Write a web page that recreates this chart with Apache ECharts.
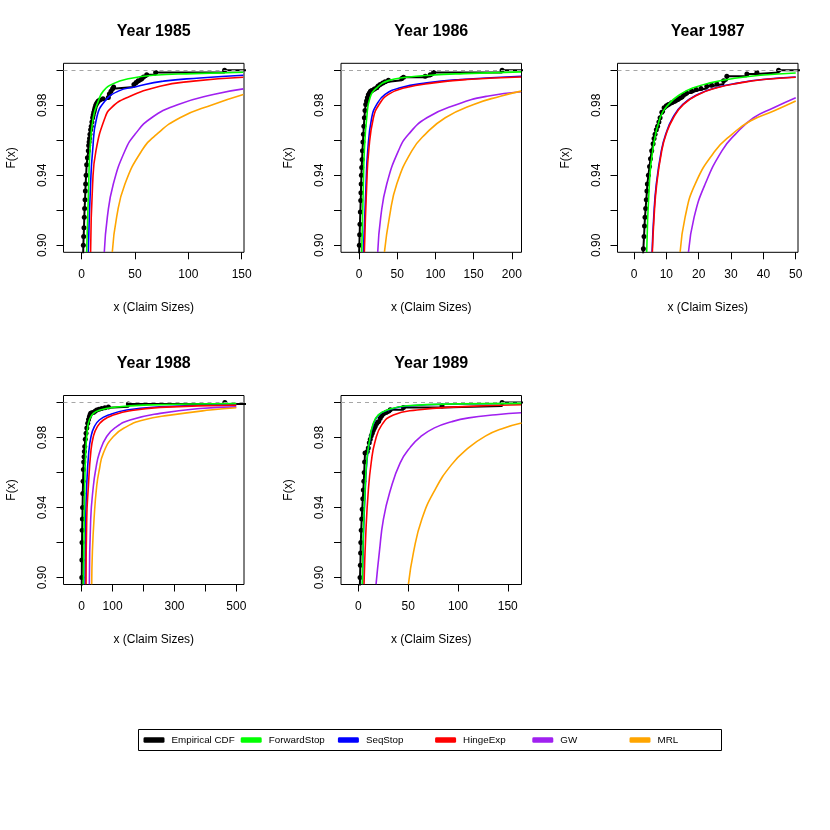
<!DOCTYPE html>
<html><head><meta charset="utf-8">
<script src="https://cdn.jsdelivr.net/npm/echarts@6/dist/echarts.min.js"></script>
<style>html,body{margin:0;padding:0;background:#fff}#c{width:830px;height:830px}</style>
</head><body><div id="c"></div>
<script>
// ---------- names / ticks ----------
const years = ['1985', '1986', '1987', '1988', '1989'];
const seriesNames = ['Empirical CDF', 'ForwardStop', 'SeqStop', 'HingeExp', 'GW', 'MRL'];
const seriesColors = ['#000000', '#00FF00', '#0000FF', '#FF0000', '#A020F0', '#FFA500'];
const yTicks = [0.90, 0.92, 0.94, 0.96, 0.98, 1.00];
const yTickLabels = [0.90, 0.94, 0.98];
const xTicks1985 = [0, 50, 100, 150];            const xLabels1985 = [0, 50, 100, 150];
const xTicks1986 = [0, 50, 100, 150, 200];       const xLabels1986 = [0, 50, 100, 150, 200];
const xTicks1987 = [0, 10, 20, 30, 40, 50];      const xLabels1987 = [0, 10, 20, 30, 40, 50];
const xTicks1988 = [0, 100, 200, 300, 400, 500]; const xLabels1988 = [0, 100, 300, 500];
const xTicks1989 = [0, 50, 100, 150];            const xLabels1989 = [0, 50, 100, 150];

// ---------- 1985 ----------
const ecdf1985 = [[1.4,0.894],[1.6,0.900],[1.9,0.905],[2.2,0.910],[2.5,0.916],[2.8,0.921],[3.2,0.926],[3.5,0.931],[3.75,0.935],[4.2,0.940],[4.7,0.946],[5.4,0.950],[6.25,0.954],[6.6,0.957],[7.0,0.959],[7.4,0.961],[7.8,0.9634],[8.4,0.966],[9.0,0.968],[9.6,0.9705],[10.3,0.9729],[10.8,0.9745],[11.4,0.976],[12.0,0.9773],[12.5,0.9786],[13.2,0.980],[14,0.981],[14.8,0.9818],[15.6,0.9824],[17,0.983],[20,0.9837],[25,0.9845],[26,0.9865],[27.5,0.988],[29,0.9895],[30,0.9905],[49,0.9919],[51,0.993],[53,0.9941],[56,0.995],[58,0.9962],[61,0.9975],[69.4,0.9987],[134,1.0],[1000,1.0]];
const fs1985 = [[4.7,0.8962],[6.6,0.935],[7.8,0.954],[10.9,0.9729],[15.6,0.9824],[20.3,0.9881],[29.7,0.9924],[45.3,0.9953],[67.2,0.9972],[104.7,0.9981],[151.6,0.9989]];
const ss1985 = [[6.25,0.8962],[8.4,0.935],[10.3,0.954],[14.1,0.9729],[21.9,0.9824],[34.4,0.9881],[50,0.9905],[76.6,0.9938],[110.9,0.9956],[151.6,0.9972]];
const he1985 = [[8.4,0.8962],[10.3,0.935],[13.4,0.954],[21.9,0.9729],[28,0.9787],[42.2,0.9843],[73.4,0.9909],[104.7,0.9938],[151.6,0.996]];
const gw1985 = [[21.25,0.8962],[24.1,0.9161],[29.7,0.935],[40.6,0.954],[50,0.9634],[65.6,0.9729],[90.6,0.9805],[123.4,0.9862],[151.6,0.9894]];
const mrl1985 = [[28.75,0.8962],[32.8,0.9161],[40.6,0.935],[56.3,0.954],[70.3,0.9634],[92.2,0.9729],[123.4,0.9805],[151.6,0.9862]];

// ---------- 1986 ----------
const ecdf1986 = [[0,0.894],[0.4,0.900],[0.8,0.906],[1.2,0.912],[1.7,0.919],[2.2,0.9256],[2.5,0.930],[2.8,0.935],[3.1,0.940],[3.5,0.9445],[4.0,0.949],[4.5,0.954],[5.1,0.959],[5.7,0.9634],[6.3,0.968],[7.0,0.9729],[7.8,0.977],[8.75,0.9805],[9.8,0.9825],[10.9,0.9843],[12.2,0.986],[13.6,0.9871],[15,0.988],[16.6,0.9884],[20,0.9893],[23.2,0.99],[25,0.991],[27.6,0.9919],[31,0.9927],[34.1,0.9934],[38.5,0.9943],[56,0.9953],[58.2,0.996],[86.6,0.9966],[93.2,0.9975],[97.6,0.9987],[187.3,1.0],[1000,1.0]];
const fs1986 = [[3.5,0.8962],[5.7,0.935],[7.0,0.954],[10.1,0.9729],[14.4,0.9843],[23.2,0.99],[38.5,0.9941],[62.6,0.996],[93.2,0.9972],[137,0.9981],[212.2,0.9991]];
const ss1986 = [[5.7,0.8962],[9.2,0.935],[11.4,0.954],[16.6,0.9729],[23.2,0.9805],[34.1,0.9862],[53.8,0.99],[88.8,0.9928],[132.6,0.9947],[212.2,0.9966]];
const he1986 = [[7.0,0.8962],[10.1,0.935],[12.7,0.954],[18.8,0.9729],[26.3,0.9805],[38.5,0.9862],[60.4,0.99],[97.6,0.9928],[141.3,0.9947],[212.2,0.9962]];
const gw1986 = [[24.5,0.8962],[28.4,0.9161],[36.3,0.935],[51.6,0.954],[64.8,0.9634],[88.8,0.9729],[128.2,0.9805],[167.6,0.9852],[212.2,0.9877]];
const mrl1986 = [[33.3,0.8962],[39.8,0.9161],[49.4,0.935],[69.1,0.954],[86.6,0.9634],[112.9,0.9729],[150.1,0.9805],[185.1,0.9852],[212.2,0.9881]];

// ---------- 1987 ----------
const ecdf1987 = [[2.8,0.894],[2.9,0.8981],[3.1,0.905],[3.25,0.911],[3.4,0.9161],[3.6,0.921],[3.8,0.926],[4.0,0.931],[4.13,0.935],[4.45,0.940],[4.8,0.945],[5.1,0.9495],[5.47,0.954],[5.9,0.958],[6.2,0.961],[6.51,0.9634],[6.9,0.966],[7.3,0.968],[7.7,0.9705],[8.06,0.9729],[8.6,0.976],[9.3,0.9786],[10,0.9797],[10.64,0.9805],[11.6,0.9815],[12.7,0.9824],[13.5,0.9833],[14.3,0.9843],[15.3,0.9857],[16.3,0.9871],[17.8,0.9882],[19.2,0.989],[20.7,0.9896],[22.5,0.9909],[24,0.9915],[25.6,0.9922],[27.7,0.9941],[28.7,0.9966],[34.9,0.9979],[38.0,0.9987],[44.7,1.0],[1000,1.0]];
const fs1987 = [[3.93,0.8962],[4.75,0.935],[5.79,0.954],[8.06,0.9729],[10.64,0.9805],[14.26,0.9862],[18.39,0.99],[23.55,0.9928],[31.82,0.9956],[39.05,0.9972],[50,0.9985]];
const ss1987 = [[5.6,0.8962],[6.1,0.9161],[6.9,0.935],[8.45,0.954],[9.8,0.9634],[12.0,0.9729],[15.1,0.9805],[19.7,0.9862],[25.3,0.99],[32.5,0.9928],[39.7,0.9947],[50,0.9962]];
const he1987 = [[5.68,0.8962],[6.2,0.9161],[7.02,0.935],[8.57,0.954],[9.92,0.9634],[12.19,0.9729],[15.29,0.9805],[19.94,0.9862],[25.62,0.99],[32.85,0.9928],[40.08,0.9947],[50,0.996]];
const gw1987 = [[16.84,0.8962],[18.59,0.9161],[22.0,0.935],[27.17,0.954],[31.3,0.9634],[36.98,0.9729],[43.18,0.9786],[50,0.9843]];
const mrl1987 = [[14.26,0.8962],[15.8,0.9161],[18.9,0.935],[25.1,0.954],[30.27,0.9634],[35.95,0.971],[43.18,0.9767],[50,0.9824]];

// ---------- 1988 ----------
const ecdf1988 = [[0,0.894],[0.3,0.900],[0.6,0.910],[1.0,0.920],[1.5,0.927],[2.2,0.9334],[2.8,0.940],[3.5,0.948],[4.4,0.955],[5.4,0.9617],[6.4,0.966],[7.5,0.969],[8.6,0.972],[9.7,0.9749],[11.5,0.979],[14,0.9825],[16.5,0.9855],[19.4,0.9881],[22,0.9903],[24.8,0.9919],[27,0.993],[29.1,0.9938],[33,0.9941],[37.7,0.9943],[43,0.995],[48.5,0.9957],[56,0.9962],[64.7,0.9966],[75,0.997],[86.2,0.9975],[151,0.9991],[463,1.0],[5000,1.0]];
const fs1988 = [[5.4,0.8962],[9.7,0.9523],[12.9,0.9711],[18.3,0.9843],[24.8,0.99],[37.7,0.9938],[59.3,0.9957],[102.4,0.9972],[199.4,0.9985],[500,0.9994]];
const ss1988 = [[10.8,0.8962],[12.9,0.9334],[16.2,0.9523],[22.6,0.9711],[30.2,0.9806],[40.9,0.9862],[57.1,0.99],[86.2,0.9928],[145.5,0.9957],[253.2,0.9975],[500,0.9989]];
const he1988 = [[14.0,0.8962],[16.2,0.9334],[21.6,0.9523],[29.1,0.9711],[37.7,0.9806],[50.6,0.9862],[70,0.99],[102.4,0.9928],[156.3,0.9953],[253.2,0.9972],[500,0.9985]];
const gw1988 = [[24.8,0.8962],[29.1,0.9334],[37.7,0.9523],[45.3,0.9617],[57.1,0.9711],[80.8,0.9806],[113.1,0.9862],[156.3,0.99],[253.2,0.9938],[382.5,0.9966],[500,0.9975]];
const mrl1988 = [[32.3,0.8962],[34.5,0.9145],[39.9,0.9334],[48.5,0.9523],[57.1,0.9617],[70,0.9711],[102.4,0.9806],[145.5,0.9862],[199.4,0.99],[285.6,0.9928],[414.9,0.9957],[500,0.997]];

// ---------- 1989 ----------
const ecdf1989 = [[1.5,0.894],[1.7,0.900],[2.0,0.907],[2.3,0.914],[2.5,0.920],[2.9,0.927],[3.4,0.9334],[3.9,0.939],[4.5,0.945],[5.0,0.950],[5.5,0.955],[5.9,0.960],[6.3,0.966],[6.7,0.9711],[9,0.972],[10,0.974],[11,0.977],[12,0.979],[13,0.981],[14,0.9825],[15,0.984],[16,0.9853],[17,0.9865],[18.5,0.988],[20,0.989],[22,0.991],[23.5,0.9925],[25,0.9935],[28,0.9945],[32,0.9959],[45.3,0.9971],[84,0.998],[144.3,1.0],[1000,1.0]];
const fs1989 = [[4,0.8962],[5,0.925],[6.7,0.9494],[8.5,0.967],[11.1,0.9777],[14.5,0.9872],[20.1,0.9929],[29.5,0.9958],[48.7,0.9981],[100,0.9992],[163.4,0.9995]];
const ss1989 = [[4.2,0.8962],[5.2,0.925],[6.9,0.9494],[8.7,0.967],[11.3,0.9777],[14.8,0.9872],[20.5,0.9929],[30,0.9957],[49,0.998],[100,0.9991],[163.4,0.9994]];
const he1989 = [[5.7,0.8962],[7.5,0.925],[10,0.9494],[13,0.966],[16.8,0.9777],[23.5,0.9872],[35.2,0.9929],[58.8,0.9957],[100,0.9975],[163.4,0.9987]];
const gw1989 = [[17.8,0.8962],[21.1,0.9145],[25.2,0.9334],[31.9,0.9494],[42,0.9655],[52.3,0.9745],[62.6,0.9805],[76.4,0.9855],[93.6,0.989],[110.8,0.9912],[138.2,0.993],[163.4,0.9941]];
const mrl1989 = [[50.3,0.8962],[55.4,0.9145],[63.8,0.9334],[76.4,0.9495],[93.6,0.9645],[110.8,0.9742],[127.9,0.9809],[145,0.9852],[163.8,0.9883]];

// ---------- assemble ----------
const panels = [
  {year: years[0], ecdf: ecdf1985, fits: [fs1985, ss1985, he1985, gw1985, mrl1985], xr: [-17, 152.2], ticks: xTicks1985, labels: xLabels1985},
  {year: years[1], ecdf: ecdf1986, fits: [fs1986, ss1986, he1986, gw1986, mrl1986], xr: [-23.6, 212.7], ticks: xTicks1986, labels: xLabels1986},
  {year: years[2], ecdf: ecdf1987, fits: [fs1987, ss1987, he1987, gw1987, mrl1987], xr: [-5.1, 50.7], ticks: xTicks1987, labels: xLabels1987},
  {year: years[3], ecdf: ecdf1988, fits: [fs1988, ss1988, he1988, gw1988, mrl1988], xr: [-58.9, 524.9], ticks: xTicks1988, labels: xLabels1988},
  {year: years[4], ecdf: ecdf1989, fits: [fs1989, ss1989, he1989, gw1989, mrl1989], xr: [-17.4, 163.8], ticks: xTicks1989, labels: xLabels1989}
];
const FONT = "'Liberation Sans', Arial, Helvetica, sans-serif";
const gridPos = [[63.5, 63.3], [341, 63.3], [617.5, 63.3], [63.5, 395.5], [341, 395.5]];
const GW = 180.5, GH = 189;
const fitZ = [6, 3, 4, 7, 8]; // FS, SS, HE, GW, MRL draw order

const grid = [], xAxis = [], yAxis = [], title = [], series = [];
panels.forEach((p, i) => {
  const [gl, gt] = gridPos[i];
  grid.push({left: gl, top: gt, width: GW, height: GH, show: true, borderColor: '#000', borderWidth: 1, backgroundColor: 'transparent', containLabel: false});
  title.push({text: 'Year ' + p.year, left: gl + GW / 2, top: gt - 40, textAlign: 'center', padding: 0,
    textStyle: {fontSize: 16, fontWeight: 'bold', color: '#000', fontFamily: FONT}});
  xAxis.push({type: 'value', gridIndex: i, min: p.xr[0], max: p.xr[1],
    name: 'x (Claim Sizes)', nameLocation: 'middle', nameGap: 49,
    nameTextStyle: {fontSize: 12, color: '#000', fontFamily: FONT},
    axisLine: {show: false, onZero: false},
    axisTick: {show: true, inside: false, length: 7, customValues: p.ticks, lineStyle: {color: '#000', width: 1}},
    axisLabel: {show: true, customValues: p.labels, margin: 16, fontSize: 12, color: '#000', fontFamily: FONT, hideOverlap: false},
    splitLine: {show: false}});
  yAxis.push({type: 'value', gridIndex: i, min: 0.896, max: 1.004,
    name: 'F(x)', nameLocation: 'middle', nameGap: 46, nameRotate: 90,
    nameTextStyle: {fontSize: 12, color: '#000', fontFamily: FONT},
    axisLine: {show: false, onZero: false},
    axisTick: {show: true, inside: false, length: 7, customValues: yTicks, lineStyle: {color: '#000', width: 1}},
    axisLabel: {show: true, customValues: yTickLabels, rotate: 90, margin: 15, fontSize: 12, color: '#000', fontFamily: FONT,
      formatter: v => Number(v).toFixed(2)},
    splitLine: {show: false}});
  series.push({name: seriesNames[0], type: 'line', xAxisIndex: i, yAxisIndex: i, data: p.ecdf, step: 'end',
    symbol: 'circle', symbolSize: 5, showSymbol: true, clip: true, z: 2,
    lineStyle: {color: seriesColors[0], width: 2}, itemStyle: {color: seriesColors[0]},
    markLine: {silent: true, symbol: 'none', label: {show: false}, animation: false,
      lineStyle: {color: '#a6a6a6', type: [4, 4], width: 1}, data: [{yAxis: 1}]}});
  p.fits.forEach((d, k) => {
    series.push({name: seriesNames[k + 1], type: 'line', xAxisIndex: i, yAxisIndex: i, data: d,
      smooth: 0.5, showSymbol: false, symbol: 'none', clip: true, z: fitZ[k],
      lineStyle: {color: seriesColors[k + 1], width: 1.6}, itemStyle: {color: seriesColors[k + 1]}});
  });
});

// one legend per entry so that the entries sit at equal spacing, as in the reference
const legend = seriesNames.map((n, k) => ({
  data: [n], left: 143.5 + k * 97.2, top: 735, padding: 0, itemWidth: 21, itemHeight: 5.5, itemGap: 0,
  icon: 'roundRect', selectedMode: false,
  textStyle: {fontSize: 9.8, color: '#000', fontFamily: FONT, padding: [0, 0, 0, 2]}
}));

const chart = echarts.init(document.getElementById('c'));
chart.setOption({
  animation: false,
  backgroundColor: '#fff',
  title, grid, xAxis, yAxis, series, legend,
  graphic: [{type: 'rect', shape: {x: 138.5, y: 729.5, width: 583, height: 21}, style: {fill: 'none', stroke: '#000', lineWidth: 1}, silent: true}]
});
</script>
</body></html>
